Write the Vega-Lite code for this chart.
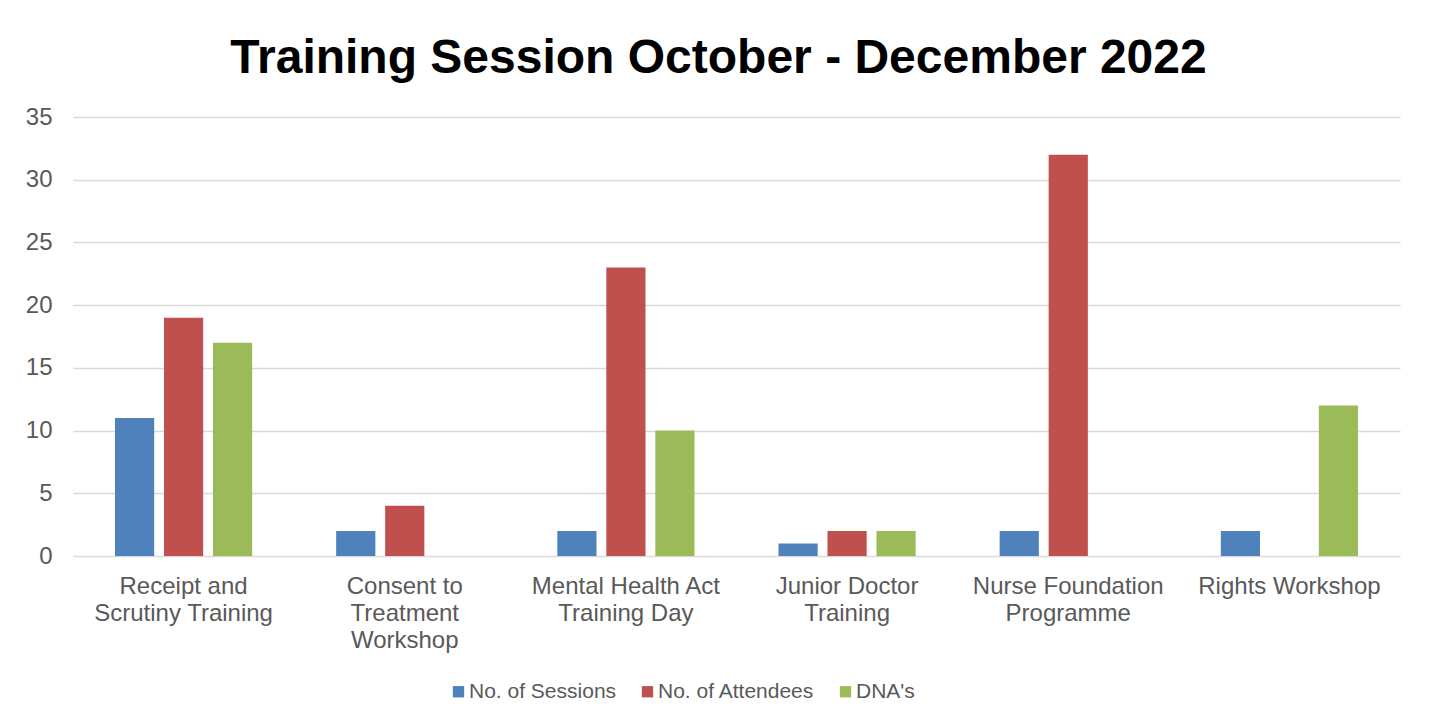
{
  "$schema": "https://vega.github.io/schema/vega-lite/v6.json",
  "width": 1327,
  "height": 439,
  "autosize": {"type": "none"},
  "padding": {"left": 73, "top": 117, "right": 29, "bottom": 168},
  "background": "white",
  "title": {
    "text": "Training Session October - December 2022",
    "font": "Liberation Sans",
    "fontSize": 48,
    "fontWeight": "bold",
    "color": "#000000",
    "anchor": "middle",
    "dx": -18,
    "offset": 22
  },
  "data": {
    "values": [
      {"course": "Receipt and Scrutiny Training", "measure": "No. of Sessions", "value": 11},
      {"course": "Receipt and Scrutiny Training", "measure": "No. of Attendees", "value": 19},
      {"course": "Receipt and Scrutiny Training", "measure": "DNA's", "value": 17},
      {"course": "Consent to Treatment Workshop", "measure": "No. of Sessions", "value": 2},
      {"course": "Consent to Treatment Workshop", "measure": "No. of Attendees", "value": 4},
      {"course": "Mental Health Act Training Day", "measure": "No. of Sessions", "value": 2},
      {"course": "Mental Health Act Training Day", "measure": "No. of Attendees", "value": 23},
      {"course": "Mental Health Act Training Day", "measure": "DNA's", "value": 10},
      {"course": "Junior Doctor Training", "measure": "No. of Sessions", "value": 1},
      {"course": "Junior Doctor Training", "measure": "No. of Attendees", "value": 2},
      {"course": "Junior Doctor Training", "measure": "DNA's", "value": 2},
      {"course": "Nurse Foundation Programme", "measure": "No. of Sessions", "value": 2},
      {"course": "Nurse Foundation Programme", "measure": "No. of Attendees", "value": 32},
      {"course": "Rights Workshop", "measure": "No. of Sessions", "value": 2},
      {"course": "Rights Workshop", "measure": "DNA's", "value": 12}
    ]
  },
  "mark": {"type": "bar"},
  "encoding": {
    "x": {
      "field": "course",
      "type": "nominal",
      "sort": null,
      "scale": {
        "domain": ["Receipt and Scrutiny Training", "Consent to Treatment Workshop", "Mental Health Act Training Day", "Junior Doctor Training", "Nurse Foundation Programme", "Rights Workshop"],
        "paddingInner": 0,
        "paddingOuter": 0
      },
      "axis": {
        "title": null,
        "labelAngle": 0,
        "domain": false,
        "ticks": false,
        "labelFont": "Liberation Sans",
        "labelFontSize": 24,
        "labelColor": "#595959",
        "labelPadding": 18,
        "labelLineHeight": 27,
        "labelLimit": 0,
        "labelBaseline": "top",
        "labelExpr": "datum.value == 'Receipt and Scrutiny Training' ? ['Receipt and', 'Scrutiny Training'] : datum.value == 'Consent to Treatment Workshop' ? ['Consent to', 'Treatment', 'Workshop'] : datum.value == 'Mental Health Act Training Day' ? ['Mental Health Act', 'Training Day'] : datum.value == 'Junior Doctor Training' ? ['Junior Doctor', 'Training'] : datum.value == 'Nurse Foundation Programme' ? ['Nurse Foundation', 'Programme'] : datum.value"
      }
    },
    "xOffset": {
      "field": "measure",
      "type": "nominal",
      "scale": {
        "domain": ["No. of Sessions", "No. of Attendees", "DNA's"],
        "paddingInner": 0.2,
        "paddingOuter": 0.857
      }
    },
    "y": {
      "field": "value",
      "type": "quantitative",
      "scale": {"domain": [0, 35], "nice": false},
      "axis": {
        "title": null,
        "values": [0, 5, 10, 15, 20, 25, 30, 35],
        "domain": false,
        "ticks": false,
        "grid": true,
        "gridColor": "#D9D9D9",
        "gridWidth": 1.3,
        "labelFont": "Liberation Sans",
        "labelFontSize": 24,
        "labelColor": "#595959",
        "labelPadding": 21
      }
    },
    "color": {
      "field": "measure",
      "type": "nominal",
      "scale": {
        "domain": ["No. of Sessions", "No. of Attendees", "DNA's"],
        "range": ["#4F81BD", "#C0504D", "#9BBB59"]
      },
      "legend": {
        "title": null,
        "orient": "none",
        "direction": "horizontal",
        "legendX": 375,
        "legendY": 564,
        "symbolType": "square",
        "symbolSize": 128,
        "symbolStrokeWidth": 0,
        "labelFont": "Liberation Sans",
        "labelFontSize": 21,
        "labelColor": "#595959",
        "labelOffset": 0,
        "columnPadding": 20
      }
    }
  },
  "config": {
    "font": "Liberation Sans",
    "view": {"stroke": null}
  }
}
